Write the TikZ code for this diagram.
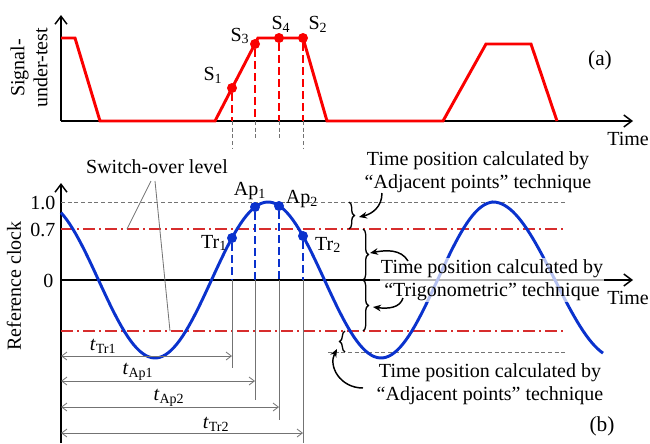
\documentclass[tikz,border=0pt]{standalone}
\usepackage{fontspec}
\setmainfont{Liberation Serif}
\usetikzlibrary{arrows.meta,decorations.pathreplacing}
\definecolor{sigred}{RGB}{250,0,0}
\definecolor{lvlred}{RGB}{215,45,45}
\definecolor{clkblue}{RGB}{10,50,205}

\begin{document}
\begin{tikzpicture}[x=0.75pt,y=-0.75pt,
  lbl/.style={font=\fontsize{15}{17.25}\selectfont,inner sep=1pt},
  axis/.style={line width=1.1pt,-{Straight Barb[length=6pt,width=9pt]}},
  dot/.style={circle,fill,inner sep=0pt,minimum size=7.5pt},
  dim/.style={black!55,line width=0.6pt,{Straight Barb[length=4pt,width=6pt]}-{Straight Barb[length=4pt,width=6pt]}},
  guide/.style={black!55,line width=0.6pt},
  lvl/.style={lvlred,line width=1.5pt,dash pattern=on 9pt off 3pt on 1.5pt off 3pt},
  bound/.style={black!55,line width=0.6pt,dash pattern=on 3pt off 2pt},
  callout/.style={line width=1.1pt,-{Stealth[length=6pt,width=5pt]}},
  brc/.style={line width=1pt,decorate,decoration={brace,amplitude=4pt}}]
  \useasboundingbox (0,0) rectangle (650,443);
  % (a) the signal under test
  \coordinate (o1) at (61,121);
  \coordinate (ytop1) at (61,15);
  \coordinate (xend1) at (633,121);
  \draw[axis] (o1) -- (ytop1);
  \draw[axis] (o1) -- (xend1);
  \node[lbl] (time1) at (628,139) {Time};
  \node[lbl,rotate=90,align=center] (sut) at (29,68) {Signal-\\under-test};
  \node[lbl,font=\fontsize{16}{18}\selectfont] (pa) at (600,60) {(a)};
  \draw[sigred,line width=2.2pt] (61,38) -- (75,38) -- (100,121) -- (215,121) -- (258,38) -- (303,38)
    -- (327,121) -- (443,121) -- (486,44) -- (531,44) -- (557,121);
  \foreach \n/\x/\y/\g in {s1/232/88/148, s3/255/44/140, s4/279/38/140, s2/303/38/148} {
    \node[dot,sigred] (\n) at (\x,\y) {};
    \coordinate (b\n) at (\x,121);
    \coordinate (g\n) at (\x,\g);
    \draw[sigred,line width=1.5pt,dash pattern=on 6pt off 3pt] (\n) -- (b\n);
    \draw[bound] (b\n) -- (g\n);
  }
  \node[lbl] (s1l) at (213,75) {S\textsubscript{1}};
  \node[lbl] (s3l) at (240,36) {S\textsubscript{3}};
  \node[lbl] (s4l) at (281,24) {S\textsubscript{4}};
  \node[lbl] (s2l) at (318,24) {S\textsubscript{2}};
  % (b) the reference clock
  \coordinate (o2) at (61,280);
  \coordinate (ybot2) at (61,443);
  \coordinate (ytop2) at (61,183);
  \coordinate (xend2) at (633,280);
  \draw[axis] (ybot2) -- (ytop2);
  \draw[axis] (o2) -- (xend2);
  \node[lbl,rotate=90] (refc) at (14,286) {Reference clock};
  \node[lbl,anchor=east] (v10) at (57,203) {1.0};
  \node[lbl,anchor=east] (v07) at (57,230) {0.7};
  \node[lbl,anchor=east] (v0) at (55,281) {0};
  \node[lbl,font=\fontsize{16}{18}\selectfont] (pb) at (602,426) {(b)};
  % levels
  \draw[bound] (61,202) -- (565,202);
  \draw[lvl] (61,229) -- (567,229);
  \draw[lvl] (61,331) -- (567,331);
  \draw[bound] (328,352) -- (565,352);
  % the clock
  \draw[clkblue,line width=2.2pt] plot[domain=61:493,samples=150] (\x,{280-78*cos(1.5929*(\x-268))})
    -- plot[domain=493:603,samples=40] (\x,{280-78*cos(1.4516*(\x-493))});
  \foreach \n/\x/\y/\e in {tr1/232/238/368, ap1/255/207/400, ap2/279/206/420, tr2/303/236/443} {
    \node[dot,clkblue] (\n) at (\x,\y) {};
    \coordinate (z\n) at (\x,280);
    \coordinate (e\n) at (\x,\e);
    \draw[clkblue,line width=1.5pt,dash pattern=on 6pt off 3pt] (\n) -- (z\n);
    \draw[guide] (z\n) -- (e\n);
  }
  \node[lbl] (tr1l) at (214,243) {Tr\textsubscript{1}};
  \node[lbl] (ap1l) at (250,191) {Ap\textsubscript{1}};
  \node[lbl] (ap2l) at (302,199) {Ap\textsubscript{2}};
  \node[lbl] (tr2l) at (328,245) {Tr\textsubscript{2}};
  % times from the origin
  \foreach \n/\x/\y in {tr1/232/356, ap1/255/381, ap2/279/407, tr2/303/433} {
    \coordinate (da\n) at (61,\y);
    \coordinate (db\n) at (\x,\y);
    \draw[dim] (da\n) -- (db\n);
  }
  \node[lbl] (ttr1) at (103,346) {\textit{t}\textsubscript{Tr1}};
  \node[lbl] (tap1) at (138,372) {\textit{t}\textsubscript{Ap1}};
  \node[lbl] (tap2) at (169,398) {\textit{t}\textsubscript{Ap2}};
  \node[lbl] (ttr2) at (216,424) {\textit{t}\textsubscript{Tr2}};
  % switch-over level
  \node[lbl] (sw) at (157,167) {Switch-over level};
  \coordinate (swa) at (151,181);
  \coordinate (swb) at (155,181);
  \coordinate (swu) at (127,229);
  \coordinate (swd) at (170,331);
  \draw[guide] (swa) -- (swu);
  \draw[guide] (swb) -- (swd);
  % braces
  \draw[brc] (349,202) -- (349,229);
  \draw[brc] (363,229) -- (363,280);
  \draw[brc] (363,280) -- (363,331);
  \draw[brc] (345,352) -- (345,331);
  % explanations
  \node[lbl,align=center] (adjtop) at (478,172) {Time position calculated by\\“Adjacent points” technique};
  \node[lbl,align=center,fill=white,fill opacity=0.7,text opacity=1] (trig) at (492,280) {Time position calculated by\\“Trigonometric” technique};
  \node[lbl,align=center] (adjbot) at (490,384) {Time position calculated by\\“Adjacent points” technique};
  \node[lbl] (time2) at (628,298) {Time};
  \coordinate (c1a) at (382,193);
  \coordinate (c1b) at (359,217);
  \coordinate (c2a) at (408,261);
  \coordinate (c2b) at (370,253);
  \coordinate (c3a) at (403,298);
  \coordinate (c3b) at (373,307);
  \coordinate (c4a) at (363,388);
  \coordinate (c4b) at (337,349);
  \draw[callout] (c1a) .. controls (382,207) and (372,214) .. (c1b);
  \draw[callout] (c2a) .. controls (401,249) and (386,250) .. (c2b);
  \draw[callout] (c3a) .. controls (400,308) and (388,309) .. (c3b);
  \draw[callout] (c4a) .. controls (340,388) and (328,366) .. (c4b);
\end{tikzpicture}
\end{document}
